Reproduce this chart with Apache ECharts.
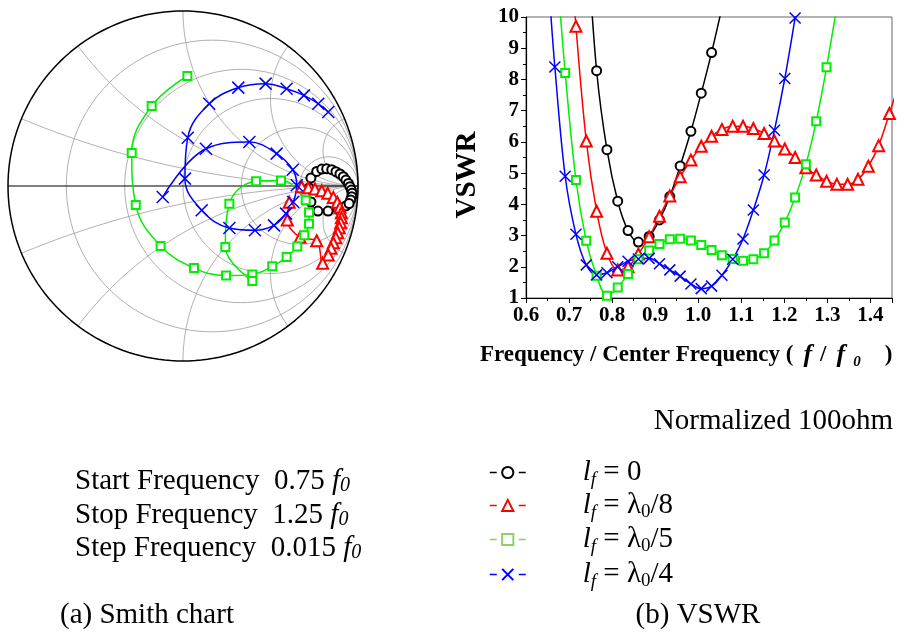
<!DOCTYPE html>
<html><head><meta charset="utf-8">
<script src="https://cdn.jsdelivr.net/npm/echarts@6/dist/echarts.min.js"></script>
<style>html,body{margin:0;padding:0;background:#fff}#c{width:905px;height:635px}</style>
</head><body><div id="c"></div>
<script>
// ---------- data ----------
const seriesNames = ['lf0', 'lf8', 'lf5', 'lf4'];
const seriesColors = ['#000000', '#ff0000', '#00ee00', '#0000ff'];
const legendColors = ['#000000', '#ff0000', '#8fd06a', '#0000ff'];

// VSWR panel: marker frequencies (f/f0)
const markerFreq = [0.667, 0.691, 0.716, 0.740, 0.764, 0.788, 0.813, 0.837, 0.861, 0.886,
  0.910, 0.934, 0.958, 0.983, 1.007, 1.031, 1.055, 1.080, 1.104, 1.128,
  1.153, 1.177, 1.201, 1.225, 1.250, 1.274, 1.298, 1.322, 1.347, 1.371,
  1.395, 1.419, 1.444];
const blackStart = 4;
const blackVSWR = [8.28, 5.75, 4.10, 3.16, 2.79, 2.97, 3.50, 4.25, 5.23, 6.34, 7.56, 8.86];
const blackEnds = [[0.745, 12.0], [1.060, 10.6]];
const redStart = 2;
const redVSWR = [9.70, 6.03, 3.78, 2.43, 1.90, 2.00, 2.41, 2.96, 3.62, 4.27, 4.88, 5.42,
  5.86, 6.18, 6.40, 6.50, 6.50, 6.43, 6.27, 6.03, 5.77, 5.50, 5.17, 4.94, 4.74,
  4.64, 4.64, 4.80, 5.22, 5.88, 6.91];
const redEnds = [[0.706, 11.8], [1.465, 7.8]];
const greenStart = 1;
const greenVSWR = [8.21, 4.78, 2.83, 1.71, 1.07, 1.34, 1.77, 2.24, 2.52, 2.73, 2.88, 2.90,
  2.84, 2.70, 2.54, 2.37, 2.25, 2.19, 2.24, 2.43, 2.84, 3.42, 4.22, 5.28, 6.66, 8.39];
const greenEnds = [[0.676, 10.8], [1.325, 10.6]];
const blueStart = 0;
const blueVSWR = [8.40, 4.90, 3.04, 2.06, 1.74, 1.81, 2.00, 2.18, 2.25, 2.27, 2.10, 1.90,
  1.70, 1.45, 1.30, 1.38, 1.73, 2.24, 2.89, 3.82, 4.94, 6.37, 8.03, 9.97];
const blueEnds = [[0.655, 10.6], [1.235, 10.8]];

// Smith chart: reflection coefficient [Re, Im]
const smithBlack = [[0.931, -0.114], [0.886, -0.134], [0.829, -0.143], [0.771, -0.143], [0.731, -0.091],
  [0.720, -0.011], [0.731, 0.046], [0.764, 0.083], [0.793, 0.097], [0.821, 0.098], [0.850, 0.093],
  [0.874, 0.082], [0.897, 0.069], [0.916, 0.053], [0.931, 0.034], [0.945, 0.015], [0.954, -0.004],
  [0.962, -0.023], [0.966, -0.042], [0.964, -0.061], [0.958, -0.080], [0.949, -0.100]];
const smithRed = [[0.678, -0.004], [0.716, -0.010], [0.754, -0.017], [0.793, -0.027], [0.827, -0.042],
  [0.859, -0.065], [0.882, -0.093], [0.897, -0.122], [0.905, -0.153], [0.905, -0.181], [0.901, -0.210],
  [0.893, -0.238], [0.884, -0.267], [0.873, -0.295], [0.859, -0.324], [0.846, -0.356], [0.830, -0.394],
  [0.798, -0.442], [0.764, -0.313], [0.669, -0.293], [0.596, -0.194], [0.607, -0.093]];
const smithGreen = [[0.025, 0.629], [-0.179, 0.457], [-0.293, 0.189], [-0.270, -0.109], [-0.128, -0.343],
  [0.063, -0.469], [0.246, -0.512], [0.396, -0.505], [0.510, -0.459], [0.592, -0.406], [0.653, -0.345],
  [0.693, -0.282], [0.720, -0.215], [0.720, -0.152], [0.701, -0.082], [0.560, 0.032], [0.417, 0.027],
  [0.265, -0.101], [0.242, -0.349], [0.396, -0.543]];
const smithBlue = [[-0.116, -0.063], [0.131, 0.213], [0.379, 0.251], [0.535, 0.185], [0.627, 0.093],
  [0.650, 0.004], [0.630, -0.091], [0.589, -0.158], [0.520, -0.225], [0.411, -0.253], [0.265, -0.240],
  [0.107, -0.139], [0.011, 0.042], [0.027, 0.276], [0.150, 0.470], [0.316, 0.562], [0.472, 0.585],
  [0.592, 0.556], [0.691, 0.518], [0.773, 0.470], [0.830, 0.423]];

// Smith chart grid values
const resistanceCircles = [0.2, 0.5, 1, 2, 5];
const reactanceArcs = [0.2, 0.5, 1, 2, 5];

// texts
const xTickDecimals = 1;
const FONT = 'Liberation Serif';
const legendLabels = {
  lf0: '{g| }{i|l}{sf|f}{n| = 0}',
  lf8: '{g| }{i|l}{sf|f}{n| = λ}{s|0}{n|/8}',
  lf5: '{g| }{i|l}{sf|f}{n| = λ}{s|0}{n|/5}',
  lf4: '{g| }{i|l}{sf|f}{n| = λ}{s|0}{n|/4}'
};
const infoLines = [['Start Frequency  0.75 ', '0'], ['Stop Frequency  1.25 ', '0'], ['Step Frequency  0.015 ', '0']];

// ---------- build ----------
const symbols = ['emptyCircle', 'emptyTriangle', 'emptyRect', 'path://M0,0L10,10M10,0L0,10'];
const symSizes = [9, 11, 8, 11];
const smithSymSizes = [9, 11, 8, 12];

function gammaOf(a, b) {
  const d = (a + 1) * (a + 1) + b * b;
  return [(a * a - 1 + b * b) / d, 2 * b / d];
}
const gridSeries = [];
const gridStyle = {color: '#9a9a9a', width: 0.8};
resistanceCircles.forEach(r => {
  const pts = [];
  const cx = r / (1 + r), rad = 1 / (1 + r);
  for (let t = 0; t <= 360; t += 3) {
    const a = t * Math.PI / 180;
    pts.push([cx + rad * Math.cos(a), rad * Math.sin(a)]);
  }
  gridSeries.push(pts);
});
reactanceArcs.forEach(x => {
  [x, -x].forEach(xx => {
    const pts = [];
    for (let k = 0; k <= 200; k++) {
      const u = k / 200 * 0.9995;
      const rr = Math.tan(u * Math.PI / 2);
      pts.push(gammaOf(rr, xx));
    }
    gridSeries.push(pts);
  });
});
const outer = [];
for (let t = 0; t <= 360; t += 2) {
  const a = t * Math.PI / 180;
  outer.push([Math.cos(a), Math.sin(a)]);
}

const series = [];
gridSeries.forEach(pts => series.push({
  type: 'line', xAxisIndex: 0, yAxisIndex: 0, data: pts, showSymbol: false, silent: true,
  lineStyle: gridStyle, clip: false, z: 1
}));
series.push({type: 'line', xAxisIndex: 0, yAxisIndex: 0, data: outer, showSymbol: false, silent: true,
  lineStyle: {color: '#000', width: 1.5}, clip: false, z: 2});
series.push({type: 'line', xAxisIndex: 0, yAxisIndex: 0, data: [[-1, 0], [1, 0]], showSymbol: false, silent: true,
  lineStyle: {color: '#000', width: 1.2}, clip: false, z: 2});

const smithData = [smithBlack, smithRed, smithGreen, smithBlue];
smithData.forEach((d, i) => series.push({
  name: seriesNames[i], type: 'line', xAxisIndex: 0, yAxisIndex: 0, data: d,
  smooth: 0.4, symbol: symbols[i], symbolSize: smithSymSizes[i], clip: false, z: 5,
  lineStyle: {color: seriesColors[i], width: 1.5},
  itemStyle: {color: seriesColors[i], borderColor: seriesColors[i], borderWidth: 1.5}
}));

const vswrSets = [[blackStart, blackVSWR, blackEnds], [redStart, redVSWR, redEnds],
  [greenStart, greenVSWR, greenEnds], [blueStart, blueVSWR, blueEnds]];
vswrSets.forEach((s, i) => {
  const [start, vals, ends] = s;
  const data = [{value: ends[0], symbol: 'none'}];
  vals.forEach((v, k) => data.push([markerFreq[start + k], v]));
  data.push({value: ends[1], symbol: 'none'});
  series.push({
    name: seriesNames[i], type: 'line', xAxisIndex: 1, yAxisIndex: 1, data: data,
    smooth: 0.35, symbol: symbols[i], symbolSize: symSizes[i], clip: true, z: 5,
    lineStyle: {color: seriesColors[i], width: 1.5},
    itemStyle: {color: seriesColors[i], borderColor: seriesColors[i], borderWidth: 1.5}
  });
});

const rowY = [470, 503, 537, 572];
const legendRich = {
  g: {width: 52, fontSize: 29, fontFamily: FONT},
  n: {fontSize: 29, fontFamily: FONT, color: '#000'},
  i: {fontSize: 29, fontFamily: FONT, fontStyle: 'italic', color: '#000'},
  sf: {fontSize: 19, fontFamily: FONT, fontStyle: 'italic', color: '#000', padding: [14, 0, 0, 0]},
  s: {fontSize: 19, fontFamily: FONT, color: '#000', padding: [14, 0, 0, 0]}
};
const legends = seriesNames.map((nm, i) => ({
  data: [{name: nm, itemStyle: {color: legendColors[i], borderColor: legendColors[i]}, lineStyle: {color: legendColors[i]}}],
  left: 484, top: rowY[i] - 17, itemWidth: 36, itemHeight: 14, selectedMode: false,
  formatter: n => legendLabels[n],
  lineStyle: {type: [7, 22], width: 1.5},
  textStyle: {rich: legendRich}
}));

const txt = (x, y, style, extra) => Object.assign({type: 'text', x: x, y: y, style: Object.assign({fill: '#000', fontFamily: FONT}, style)}, extra || {});
const infoRich = {
  n: {fontSize: 29, fontFamily: FONT, color: '#000'},
  i: {fontSize: 29, fontFamily: FONT, fontStyle: 'italic', color: '#000'},
  s: {fontSize: 20, fontFamily: FONT, fontStyle: 'italic', color: '#000', padding: [10, 0, 0, 0]}
};
const graphics = [
  txt(468, 175, {text: 'VSWR', fontSize: 29, fontWeight: 'bold', align: 'center', verticalAlign: 'middle'}, {rotation: Math.PI / 2}),
  txt(480, 355, {
    text: '{b|Frequency / Center Frequency (}{i|f}{b|/}{i|f}{s|0}{e|)}', verticalAlign: 'middle',
    rich: {
      b: {fontSize: 23, fontWeight: 'bold', fontFamily: FONT, color: '#000'},
      e: {fontSize: 23, fontWeight: 'bold', fontFamily: FONT, color: '#000', padding: [0, 0, 0, 24]},
      i: {fontSize: 26, fontWeight: 'bold', fontStyle: 'italic', fontFamily: FONT, color: '#000', padding: [0, 8, 0, 10]},
      s: {fontSize: 15, fontWeight: 'bold', fontStyle: 'italic', fontFamily: FONT, color: '#000', padding: [14, 0, 0, 0]}
    }
  }),
  txt(893, 421, {text: 'Normalized 100ohm', fontSize: 29, align: 'right', verticalAlign: 'middle'}),
  txt(75, 481, {text: '{n|' + infoLines[0][0] + '}{i|f}{s|' + infoLines[0][1] + '}', rich: infoRich, verticalAlign: 'middle'}),
  txt(75, 515, {text: '{n|' + infoLines[1][0] + '}{i|f}{s|' + infoLines[1][1] + '}', rich: infoRich, verticalAlign: 'middle'}),
  txt(75, 548, {text: '{n|' + infoLines[2][0] + '}{i|f}{s|' + infoLines[2][1] + '}', rich: infoRich, verticalAlign: 'middle'}),
  txt(60, 615, {text: '(a) Smith chart', fontSize: 29, verticalAlign: 'middle'}),
  txt(698, 615, {text: '(b) VSWR', fontSize: 29, align: 'center', verticalAlign: 'middle'})
];

const axisLbl = {fontFamily: FONT, fontWeight: 'bold', fontSize: 21, color: '#000'};
const option = {
  animation: false,
  backgroundColor: '#fff',
  grid: [
    {left: 8, top: 11, width: 350, height: 350},
    {left: 526, top: 17, width: 366, height: 281, show: true, borderColor: '#666', borderWidth: 1, backgroundColor: 'transparent'}
  ],
  xAxis: [
    {gridIndex: 0, type: 'value', min: -1, max: 1, show: false},
    {gridIndex: 1, type: 'value', min: 0.6, max: 1.45, interval: 0.1,
      axisLine: {show: true, onZero: false, lineStyle: {color: '#000', width: 1.2}},
      axisTick: {show: true, length: 5, lineStyle: {color: '#000'}},
      minorTick: {show: true, splitNumber: 2, length: 3, lineStyle: {color: '#000'}},
      splitLine: {show: false}, minorSplitLine: {show: false},
      axisLabel: Object.assign({margin: 7, showMaxLabel: false, formatter: v => v.toFixed(xTickDecimals)}, axisLbl)}
  ],
  yAxis: [
    {gridIndex: 0, type: 'value', min: -1, max: 1, show: false},
    {gridIndex: 1, type: 'value', min: 1, max: 10, interval: 1,
      axisLine: {show: true, onZero: false, lineStyle: {color: '#000', width: 1.2}},
      axisTick: {show: true, length: 5, lineStyle: {color: '#000'}},
      minorTick: {show: true, splitNumber: 2, length: 3, lineStyle: {color: '#000'}},
      splitLine: {show: false}, minorSplitLine: {show: false},
      axisLabel: Object.assign({margin: 7}, axisLbl)}
  ],
  legend: legends,
  series: series,
  graphic: graphics
};
const chart = echarts.init(document.getElementById('c'), null, {renderer: 'canvas'});
chart.setOption(option);
</script></body></html>
